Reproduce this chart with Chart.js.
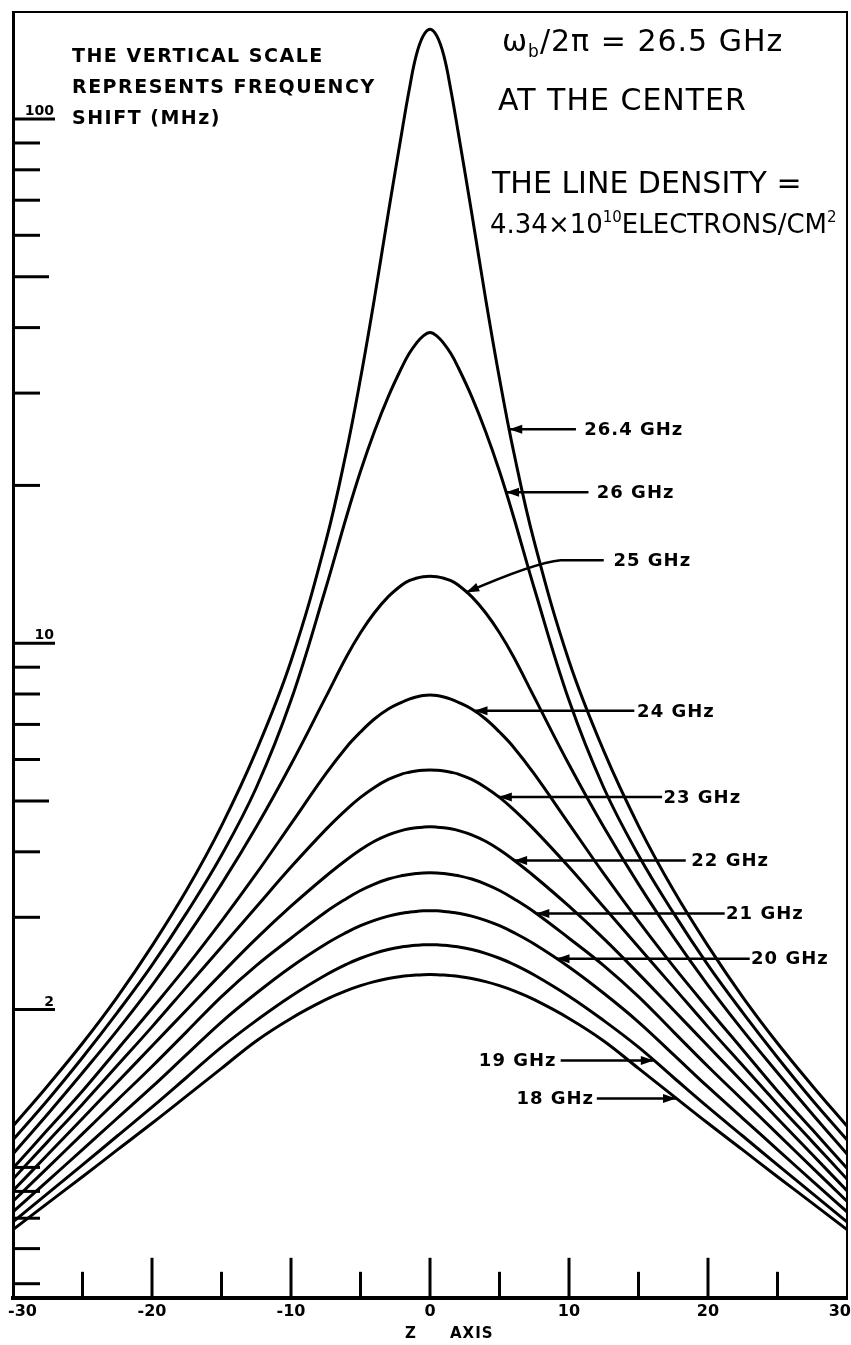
<!DOCTYPE html>
<html lang="en">
<head>
  <meta charset="UTF-8">
  <title>Frequency shift along the Z axis</title>
  <script src="https://cdn.jsdelivr.net/npm/chart.js"></script>
  <style>
    html, body { margin: 0; padding: 0; background: #ffffff; }
    .chart-box { position: relative; width: 851px; height: 1345px; }
  </style>
</head>
<body>
  <div class="chart-box">
    <canvas id="graficoShift"></canvas>
  </div>

  <script>
    // positions on the Z axis where the curves were read
    const zPoints = [-30, -27.5, -25, -22.5, -20, -17.5, -15, -12.5, -10, -7.5, -6, -5, -4, -3, -2, -1.5, -1, -0.5, 0, 0.5, 1, 1.5, 2, 3, 4, 5, 6, 7.5, 10, 12.5, 15, 17.5, 20, 22.5, 25, 27.5, 30];

    // frequency shift (MHz), one list per curve
    const shift264 = [1.199, 1.432, 1.725, 2.113, 2.646, 3.385, 4.484, 6.230, 9.246, 15.62, 23.32, 31.98, 45.43, 66.2, 95.3, 113.6, 131.9, 143.9, 148.4, 143.9, 131.9, 113.6, 95.3, 66.2, 45.43, 31.98, 23.32, 15.62, 9.246, 6.230, 4.484, 3.385, 2.646, 2.113, 1.725, 1.432, 1.199];
    const shift26 = [1.129, 1.345, 1.621, 1.974, 2.432, 3.062, 3.94, 5.30, 7.78, 12.73, 17.47, 21.28, 25.35, 29.55, 33.71, 35.69, 37.29, 38.54, 39.14, 38.54, 37.29, 35.69, 33.71, 29.55, 25.35, 21.28, 17.47, 12.73, 7.78, 5.30, 3.94, 3.062, 2.432, 1.974, 1.621, 1.345, 1.129];
    const shift25 = [1.061, 1.265, 1.516, 1.826, 2.225, 2.755, 3.47, 4.46, 5.87, 7.89, 9.43, 10.47, 11.43, 12.27, 12.93, 13.16, 13.30, 13.39, 13.42, 13.39, 13.30, 13.16, 12.93, 12.27, 11.43, 10.47, 9.43, 7.89, 5.87, 4.46, 3.47, 2.755, 2.225, 1.826, 1.516, 1.265, 1.061];
    const shift24 = [0.996, 1.181, 1.399, 1.677, 2.010, 2.421, 2.950, 3.633, 4.523, 5.632, 6.341, 6.770, 7.168, 7.489, 7.722, 7.824, 7.893, 7.945, 7.962, 7.945, 7.893, 7.824, 7.722, 7.489, 7.168, 6.770, 6.341, 5.632, 4.523, 3.633, 2.950, 2.421, 2.010, 1.677, 1.399, 1.181, 0.996];
    const shift23 = [0.950, 1.120, 1.320, 1.564, 1.854, 2.210, 2.634, 3.139, 3.741, 4.410, 4.820, 5.080, 5.308, 5.498, 5.632, 5.674, 5.706, 5.724, 5.732, 5.724, 5.706, 5.674, 5.632, 5.498, 5.308, 5.080, 4.820, 4.410, 3.741, 3.139, 2.634, 2.210, 1.854, 1.564, 1.320, 1.120, 0.950];
    const shift22 = [0.903, 1.058, 1.240, 1.454, 1.704, 1.999, 2.343, 2.732, 3.150, 3.593, 3.863, 4.036, 4.189, 4.310, 4.396, 4.425, 4.445, 4.458, 4.464, 4.458, 4.445, 4.425, 4.396, 4.310, 4.189, 4.036, 3.863, 3.593, 3.150, 2.732, 2.343, 1.999, 1.704, 1.454, 1.240, 1.058, 0.903];
    const shift21 = [0.862, 0.999, 1.159, 1.344, 1.558, 1.816, 2.118, 2.427, 2.737, 3.071, 3.259, 3.375, 3.472, 3.549, 3.604, 3.622, 3.636, 3.646, 3.649, 3.646, 3.636, 3.622, 3.604, 3.549, 3.472, 3.375, 3.259, 3.071, 2.737, 2.427, 2.118, 1.816, 1.558, 1.344, 1.159, 0.999, 0.862];
    const shift20 = [0.823, 0.943, 1.081, 1.241, 1.424, 1.643, 1.894, 2.149, 2.412, 2.668, 2.808, 2.891, 2.960, 3.015, 3.055, 3.068, 3.079, 3.086, 3.088, 3.086, 3.079, 3.068, 3.055, 3.015, 2.960, 2.891, 2.808, 2.668, 2.412, 2.149, 1.894, 1.643, 1.424, 1.241, 1.081, 0.943, 0.823];
    const shift19 = [0.787, 0.892, 1.011, 1.148, 1.303, 1.486, 1.696, 1.906, 2.121, 2.328, 2.441, 2.506, 2.561, 2.604, 2.635, 2.645, 2.653, 2.659, 2.660, 2.659, 2.653, 2.645, 2.635, 2.604, 2.561, 2.506, 2.441, 2.328, 2.121, 1.906, 1.696, 1.486, 1.303, 1.148, 1.011, 0.892, 0.787];
    const shift18 = [0.761, 0.855, 0.960, 1.080, 1.214, 1.369, 1.545, 1.743, 1.924, 2.089, 2.174, 2.222, 2.262, 2.293, 2.315, 2.322, 2.328, 2.332, 2.333, 2.332, 2.328, 2.322, 2.315, 2.293, 2.262, 2.222, 2.174, 2.089, 1.924, 1.743, 1.545, 1.369, 1.214, 1.080, 0.960, 0.855, 0.761];

    const curveNames = ['26.4 GHz', '26 GHz', '25 GHz', '24 GHz', '23 GHz', '22 GHz', '21 GHz', '20 GHz', '19 GHz', '18 GHz'];
    const curveValues = [shift264, shift26, shift25, shift24, shift23, shift22, shift21, shift20, shift19, shift18];

    // axis ticks
    const yTickValues = [100, 90, 80, 70, 60, 50, 40, 30, 20, 10, 9, 8, 7, 6, 5, 4, 3, 2, 1, 0.9, 0.8, 0.7, 0.6];
    const yTickLabels = { 100: '100', 10: '10', 2: '2' };
    const xTickValues = [-25, -20, -15, -10, -5, 0, 5, 10, 15, 20, 25];

    // arrows pointing at each curve (tip on the curve, label at the tail)
    const arrowNotes = [
      { text: '26.4 GHz', tipZ: 5.7, atV: 25.6, tailZ: 10.5, textZ: 11.1 },
      { text: '26 GHz', tipZ: 5.47, atV: 19.4, tailZ: 11.4, textZ: 12.0 },
      { text: '25 GHz', tipZ: 2.6, atV: 12.5, bendZ: 9.4, tailZ: 12.5, tailV: 14.4, textZ: 13.2 },
      { text: '24 GHz', tipZ: 3.2, atV: 7.43, tailZ: 14.7, textZ: 14.9 },
      { text: '23 GHz', tipZ: 4.95, atV: 5.09, tailZ: 16.7, textZ: 16.8 },
      { text: '22 GHz', tipZ: 6.05, atV: 3.85, tailZ: 18.4, textZ: 18.8 },
      { text: '21 GHz', tipZ: 7.65, atV: 3.05, tailZ: 21.2, textZ: 21.3 },
      { text: '20 GHz', tipZ: 9.1, atV: 2.50, tailZ: 23.0, textZ: 23.1 },
      { text: '19 GHz', tipZ: 16.1, atV: 1.60, tailZ: 9.4, textZ: 9.1, before: true },
      { text: '18 GHz', tipZ: 17.7, atV: 1.354, tailZ: 12.0, textZ: 11.8, before: true }
    ];

    function arrowHead(ctx, x, y, ang) {
      const l = 13, w = 4.5;
      const c = Math.cos(ang), s = Math.sin(ang);
      ctx.beginPath();
      ctx.moveTo(x, y);
      ctx.lineTo(x - l * c + w * s, y - l * s - w * c);
      ctx.lineTo(x - l * c - w * s, y - l * s + w * c);
      ctx.closePath();
      ctx.fill();
    }

    function richText(ctx, parts, x, y) {
      let cx = x;
      parts.forEach(p => {
        ctx.font = p.font;
        ctx.fillText(p.t, cx, y + (p.dy || 0));
        cx += ctx.measureText(p.t).width;
      });
    }

    const paperDecor = {
      id: 'paperDecor',
      afterDraw(chart) {
        const { ctx, chartArea: area } = chart;
        const xs = chart.scales.x, ys = chart.scales.y;
        ctx.save();
        ctx.strokeStyle = '#000';
        ctx.fillStyle = '#000';

        // top and right edge of the frame
        ctx.lineWidth = 2;
        ctx.beginPath();
        ctx.moveTo(area.left, area.top);
        ctx.lineTo(area.right, area.top);
        ctx.lineTo(area.right, area.bottom);
        ctx.stroke();

        // left axis ticks, drawn inward
        ctx.lineWidth = 3;
        yTickValues.forEach(v => {
          const py = ys.getPixelForValue(v);
          let len = 27;
          if (yTickLabels[v]) len = 42;
          else if (v === 50 || v === 5) len = 36;
          ctx.beginPath();
          ctx.moveTo(area.left, py);
          ctx.lineTo(area.left + len, py);
          ctx.stroke();
        });
        ctx.font = 'bold 14px "DejaVu Sans"';
        ctx.textAlign = 'right';
        ctx.textBaseline = 'alphabetic';
        Object.keys(yTickLabels).forEach(k => {
          const py = ys.getPixelForValue(Number(k));
          ctx.fillText(yTickLabels[k], area.left + 41, py - 4);
        });

        // bottom axis ticks, drawn upward
        xTickValues.forEach(z => {
          const px = xs.getPixelForValue(z);
          const len = z % 10 === 0 ? 40 : 26;
          ctx.beginPath();
          ctx.moveTo(px, area.bottom);
          ctx.lineTo(px, area.bottom - len);
          ctx.stroke();
        });

        // end labels of the Z axis sit inside the page edges
        ctx.font = 'bold 16px "DejaVu Sans"';
        ctx.textBaseline = 'middle';
        const labelY = area.bottom + 14;
        ctx.textAlign = 'left';
        ctx.fillText('-30', xs.getPixelForValue(-30) - 5, labelY);
        ctx.textAlign = 'right';
        ctx.fillText('30', xs.getPixelForValue(30) + 4, labelY);

        // axis name
        ctx.font = 'bold 15px "DejaVu Sans"';
        ctx.textAlign = 'left';
        ctx.textBaseline = 'alphabetic';
        ctx.letterSpacing = '1px';
        ctx.fillText('Z', 405, area.bottom + 40);
        ctx.fillText('AXIS', 450, area.bottom + 40);

        // arrows and their labels
        ctx.lineWidth = 2.5;
        ctx.font = 'bold 18px "DejaVu Sans"';
        ctx.letterSpacing = '1px';
        ctx.textBaseline = 'middle';
        arrowNotes.forEach(n => {
          const tipX = xs.getPixelForValue(n.tipZ);
          const tipY = ys.getPixelForValue(n.atV);
          const tailX = xs.getPixelForValue(n.tailZ);
          const tailY = ys.getPixelForValue(n.tailV || n.atV);
          let ang;
          ctx.beginPath();
          ctx.moveTo(tailX, tailY);
          if (n.bendZ !== undefined) {
            const bx = xs.getPixelForValue(n.bendZ);
            ctx.lineTo(bx, tailY);
            const cx = bx - 25, cy = tailY + 2;
            ctx.quadraticCurveTo(cx, cy, tipX, tipY);
            ang = Math.atan2(tipY - cy, tipX - cx);
          } else {
            ctx.lineTo(tipX, tipY);
            ang = Math.atan2(tipY - tailY, tipX - tailX);
          }
          ctx.stroke();
          arrowHead(ctx, tipX, tipY, ang);
          ctx.textAlign = n.before ? 'right' : 'left';
          ctx.fillText(n.text, xs.getPixelForValue(n.textZ), tailY + 1);
        });

        // notes in the upper corners
        ctx.textAlign = 'left';
        ctx.textBaseline = 'alphabetic';
        ctx.font = 'bold 19px "DejaVu Sans"';
        ctx.letterSpacing = '1.5px';
        ctx.fillText('THE VERTICAL SCALE', 72, 62);
        ctx.fillText('REPRESENTS FREQUENCY', 72, 93);
        ctx.fillText('SHIFT (MHz)', 72, 124);

        ctx.letterSpacing = '1px';
        richText(ctx, [
          { t: 'ω', font: '30px "DejaVu Sans"' },
          { t: 'b', font: '17px "DejaVu Sans"', dy: 6 },
          { t: '/2π = 26.5 GHz', font: '30px "DejaVu Sans"' }
        ], 502, 51);
        ctx.font = '30px "DejaVu Sans"';
        ctx.fillText('AT THE CENTER', 498, 110);
        ctx.letterSpacing = '0px';
        ctx.fillText('THE LINE DENSITY =', 492, 193);
        richText(ctx, [
          { t: '4.34×10', font: '26px "DejaVu Sans"' },
          { t: '10', font: '15px "DejaVu Sans"', dy: -11 },
          { t: 'ELECTRONS/CM', font: '26px "DejaVu Sans"' },
          { t: '2', font: '15px "DejaVu Sans"', dy: -11 }
        ], 490, 233);
        ctx.restore();
      }
    };

    new Chart(document.getElementById('graficoShift'), {
      type: 'line',
      data: {
        datasets: curveValues.map((vals, i) => ({
          label: curveNames[i],
          data: zPoints.map((z, k) => ({ x: z, y: vals[k] })),
          borderColor: '#000',
          borderWidth: 3,
          pointRadius: 0,
          fill: false,
          tension: 0.4
        }))
      },
      options: {
        responsive: true,
        maintainAspectRatio: false,
        animation: false,
        layout: { padding: { top: 12, left: 13, right: 4, bottom: 20 } },
        plugins: {
          legend: { display: false },
          tooltip: { enabled: false }
        },
        scales: {
          x: {
            type: 'linear',
            min: -30,
            max: 30,
            grid: { display: false, drawTicks: false },
            border: { display: true, color: '#000', width: 4 },
            ticks: {
              stepSize: 10,
              color: '#000',
              padding: 4,
              maxRotation: 0,
              autoSkip: false,
              font: { family: 'DejaVu Sans', size: 16, weight: 'bold' },
              callback: v => (v === -30 || v === 30) ? '' : v
            },
            afterFit(scale) {
              scale.paddingLeft = 0;
              scale.paddingRight = 0;
            }
          },
          y: {
            type: 'logarithmic',
            min: 0.564,
            max: 160,
            grid: { display: false, drawTicks: false },
            border: { display: true, color: '#000', width: 3 },
            ticks: { display: false }
          }
        }
      },
      plugins: [paperDecor]
    });
  </script>
</body>
</html>
